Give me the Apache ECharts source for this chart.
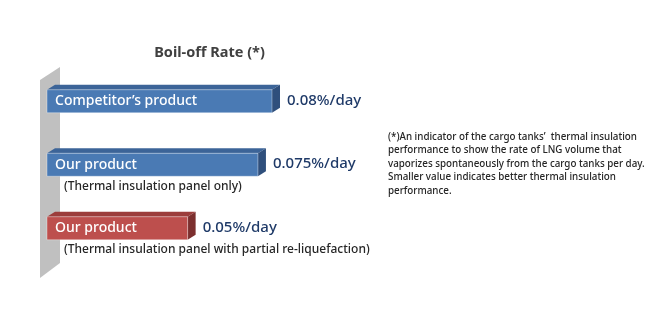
<!DOCTYPE html>
<html><head><meta charset="utf-8">
<script src="https://cdn.jsdelivr.net/npm/echarts@6/dist/echarts.min.js"></script>
<style>html,body{margin:0;padding:0;background:#fff}#c{width:670px;height:326px}</style>
</head><body><div id="c"></div>
<script>
var categories = ['competitor', 'ours_panel', 'ours_reliq'];
var barNames = ['Competitor\u2019s product', 'Our product', 'Our product'];
var subLabels = ['', '(Thermal insulation panel only)', '(Thermal insulation panel with partial re-liquefaction)'];
var values = [0.08, 0.075, 0.05];
var valueLabels = ['0.08%/day', '0.075%/day', '0.05%/day'];
var titleText = 'Boil-off Rate (*)';
var noteLines = [
  '(*)An indicator of the cargo tanks\u2019  thermal insulation',
  'performance to show the rate of LNG volume that',
  'vaporizes spontaneously from the cargo tanks per day.',
  'Smaller value indicates better thermal insulation',
  'performance.'
];

var palettes = [
  {front: '#4a7ab4', top: '#3c6498', side: '#2f4f7c'},
  {front: '#4a7ab4', top: '#3c6498', side: '#2f4f7c'},
  {front: '#bd4f4d', top: '#9c3d3b', side: '#7c2f2e'}
];
var FONT = '"Noto Sans", sans-serif';

var chart = echarts.init(document.getElementById('c'), null, {renderer: 'canvas'});
chart.setOption({
  animation: false,
  graphic: [
    {type: 'text', x: 209.5, y: 53, z: 10,
     style: {text: titleText, font: 'bold 14.5px ' + FONT, fill: '#404040', align: 'center', verticalAlign: 'middle'}},
    {type: 'polygon', shape: {points: [[40, 80], [60, 67], [60, 263], [40, 278]]},
     style: {fill: '#c0c0c0'}, z: 0},
    {type: 'text', x: 388, y: 130, z: 10,
     style: {text: noteLines.join('\n'), font: '500 9.8px ' + FONT, lineHeight: 13.6, fill: '#262626'}}
  ],
  grid: {left: 47, top: 69.5, width: 225, height: 190.5},
  xAxis: {type: 'value', min: 0, max: 0.08, show: false},
  yAxis: {type: 'category', data: categories, inverse: true, show: false},
  series: [{
    type: 'custom',
    z: 5,
    data: values.map(function (v, i) { return [v, i]; }),
    encode: {x: 0, y: 1},
    renderItem: function (params, api) {
      var i = api.value(1);
      var v = api.value(0);
      var s = api.coord([0, i]);
      var e = api.coord([v, i]);
      var h = 23, dx = 8, dy = -5;
      var x0 = s[0], x1 = e[0], y0 = s[1] - h / 2, y1 = s[1] + h / 2;
      var p = palettes[i];
      var children = [
        {type: 'polygon', shape: {points: [[x0, y0], [x0 + dx, y0 + dy], [x1 + dx, y0 + dy], [x1, y0]]},
         style: {fill: p.top}},
        {type: 'polygon', shape: {points: [[x1, y0], [x1 + dx, y0 + dy], [x1 + dx, y1 + dy], [x1, y1]]},
         style: {fill: p.side}},
        {type: 'rect', shape: {x: x0, y: y0, width: x1 - x0, height: h},
         style: {fill: p.front, stroke: 'rgba(255,255,255,0.35)', lineWidth: 1}},
        {type: 'text', x: x0 + 8, y: s[1],
         style: {text: barNames[i], font: '500 14px ' + FONT, fill: '#ffffff', verticalAlign: 'middle'}},
        {type: 'text', x: x1 + dx + 7, y: s[1] - 1,
         style: {text: valueLabels[i], font: '500 15px ' + FONT, fill: '#1f3a68', verticalAlign: 'middle'}}
      ];
      if (subLabels[i]) {
        children.push({type: 'text', x: x0 + 17, y: y1 + 10,
          style: {text: subLabels[i], font: '500 12px ' + FONT, fill: '#262626', verticalAlign: 'middle'}});
      }
      return {type: 'group', children: children};
    }
  }]
});
</script></body></html>
